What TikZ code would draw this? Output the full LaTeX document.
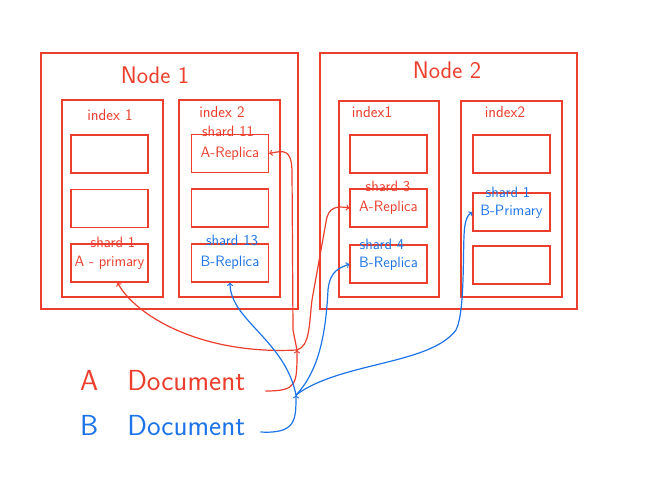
\documentclass[tikz,border=0pt]{standalone}
\usepackage{amsmath}
\definecolor{penred}{RGB}{236,62,44}
\definecolor{penblue}{RGB}{28,116,232}

\begin{document}
\begin{tikzpicture}[x=1pt,y=-1pt,
  box/.style={draw=penred,line width=1.3pt,inner sep=0pt},
  shard/.style={box,minimum width=77,minimum height=38,font=\sffamily\fontsize{15}{16}\selectfont},
  idx/.style={box,minimum width=101,minimum height=197},
  lbl/.style={font=\sffamily\fontsize{16}{18}\selectfont,inner sep=0pt},
  slbl/.style={font=\sffamily\fontsize{15}{16}\selectfont,inner sep=0pt},
  pen/.style={line width=1.2pt,->}]
\useasboundingbox (0,0) rectangle (649,485);
% the two nodes
\node[box,minimum width=257,minimum height=256] (v1) at (169.5,181) {};
\node[box,minimum width=257,minimum height=256] (v2) at (448.5,181) {};
\node[text=penred,font=\sffamily\fontsize{24}{26}\selectfont] (t1) at (155,75) {Node 1};
\node[text=penred,font=\sffamily\fontsize{24}{26}\selectfont] (t2) at (447,70) {Node 2};
% indices
\node[idx] (i11) at (112.5,198.5) {};
\node[idx] (i12) at (229.5,198.5) {};
\node[idx,minimum width=100,minimum height=196] (i21) at (389,199) {};
\node[idx,minimum height=196] (i22) at (511.5,199) {};
\node[lbl,text=penred] at (110,115) {index 1};
\node[lbl,text=penred] at (222,112) {index 2};
\node[lbl,text=penred] at (372,112) {index1};
\node[lbl,text=penred] at (505,112) {index2};
% shards of node 1
\node[shard] (s1a) at (109.5,154) {};
\node[shard] (s1b) at (109.5,208.5) {};
\node[shard,text=penred] (s1c) at (109.5,263) {A - primary};
\node[shard,text=penred] (s2a) at (230,153.5) {A-Replica};
\node[shard] (s2b) at (230,208) {};
\node[shard,text=penblue] (s2c) at (230,263) {B-Replica};
\node[slbl,text=penred] at (113,242) {shard 1};
\node[slbl,text=penred] at (228,131) {shard 11};
\node[slbl,text=penblue] at (232,240) {shard 13};
% shards of node 2
\node[shard] (s3a) at (388.5,154) {};
\node[shard,text=penred] (s3b) at (388.5,208) {A-Replica};
\node[shard,text=penblue] (s3c) at (388.5,264) {B-Replica};
\node[shard] (s4a) at (511.5,154) {};
\node[shard,text=penblue] (s4b) at (511.5,212) {B-Primary};
\node[shard] (s4c) at (511.5,265) {};
\node[slbl,text=penred] at (388,186) {shard 3};
\node[slbl,text=penblue] at (382,244) {shard 4};
\node[slbl,text=penblue] at (508,192) {shard 1};
% documents
\node[text=penred,font=\sffamily\fontsize{29}{31}\selectfont,anchor=west,inner sep=0pt] (da) at (80,381) {A\quad Document};
\node[text=penblue,font=\sffamily\fontsize{29}{31}\selectfont,anchor=west,inner sep=0pt] (db) at (80,426) {B\quad Document};
\coordinate (ja) at (297,350);
\coordinate (jb) at (296,395);
% A document
\draw[pen,draw=penred] ([shift={(20,10)}]da.east) .. controls (297,391) and (297,385) .. (ja);
\draw[pen,draw=penred] (ja) .. controls (200,355) and (135,315) .. ([xshift=8]s1c.south);
\draw[pen,draw=penred] (ja) -- (293,330) -- (292,170) .. controls (291,150) and (285,150) .. (s2a.east);
\draw[pen,draw=penred] (ja) .. controls (310,346) and (309,325) .. (312,300) -- (326,222) .. controls (328,206) and (338,206) .. (s3b.west);
% B document
\draw[pen,draw=penblue] ([shift={(15,6)}]db.east) .. controls (296,434) and (296,420) .. (jb);
\draw[pen,draw=penblue] (jb) .. controls (285,340) and (230,320) .. (s2c.south);
\draw[pen,draw=penblue] (jb) .. controls (320,370) and (326,330) .. (328,290) .. controls (330,270) and (340,268) .. (s3c.west);
\draw[pen,draw=penblue] (jb) .. controls (340,362) and (430,365) .. (456,330) .. controls (466,310) and (462,240) .. (465,225) .. controls (467,214) and (470,214) .. (s4b.west);
\end{tikzpicture}
\end{document}
